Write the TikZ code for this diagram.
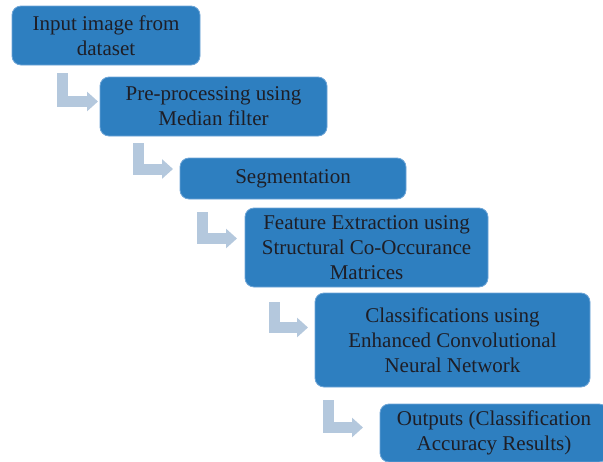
\documentclass[tikz,border=0pt]{standalone}
\usepackage{fontspec}
\setmainfont{Liberation Serif}
\usetikzlibrary{arrows.meta}
\definecolor{boxblue}{RGB}{46,127,192}
\definecolor{boxedge}{RGB}{110,165,215}
\definecolor{flowc}{RGB}{180,200,221}
\definecolor{txt}{RGB}{30,30,38}
\tikzset{
  stepbox/.style={draw=boxedge, line width=0.8pt, fill=boxblue, rounded corners=9pt,
    inner sep=0pt, align=center, text=txt,
    font=\fontsize{21}{25}\selectfont},
  flow/.style={draw=flowc, line width=11pt, line join=miter,
    -{Triangle[width=19pt,length=11pt]}}
}
\begin{document}
\begin{tikzpicture}[x=1pt,y=-1pt]
\useasboundingbox (0,0) rectangle (603,461);
\clip (0,0) rectangle (603,461);
\node[stepbox, minimum width=188pt, minimum height=59pt] (b1) at (106,35.5) {Input image from\\dataset};
\node[stepbox, minimum width=227pt, minimum height=59pt] (b2) at (213.5,106.5) {Pre-processing using\\Median filter};
\node[stepbox, minimum width=226pt, minimum height=41pt] (b3) at (293,178.5) {Segmentation};
\node[stepbox, minimum width=243pt, minimum height=79pt] (b4) at (366.5,247.5) {Feature Extraction using\\Structural Co-Occurance\\Matrices};
\node[stepbox, minimum width=275pt, minimum height=94pt] (b5) at (452.5,340) {Classifications using\\Enhanced Convolutional\\Neural Network};
\node[stepbox, minimum width=228pt, minimum height=58pt] (b6) at (494,433) {Outputs (Classification\\Accuracy Results)};
\coordinate (a1s) at (62.5,73);
\coordinate (a1e) at (98,101.5);
\coordinate (a2s) at (138.5,143);
\coordinate (a2e) at (173,169);
\coordinate (a3s) at (202.5,212);
\coordinate (a3e) at (237,238.5);
\coordinate (a4s) at (274,302);
\coordinate (a4e) at (308,327.5);
\coordinate (a5s) at (328.5,400);
\coordinate (a5e) at (363,427.5);
\draw[flow] (a1s) |- (a1e);
\draw[flow] (a2s) |- (a2e);
\draw[flow] (a3s) |- (a3e);
\draw[flow] (a4s) |- (a4e);
\draw[flow] (a5s) |- (a5e);
\end{tikzpicture}
\end{document}
